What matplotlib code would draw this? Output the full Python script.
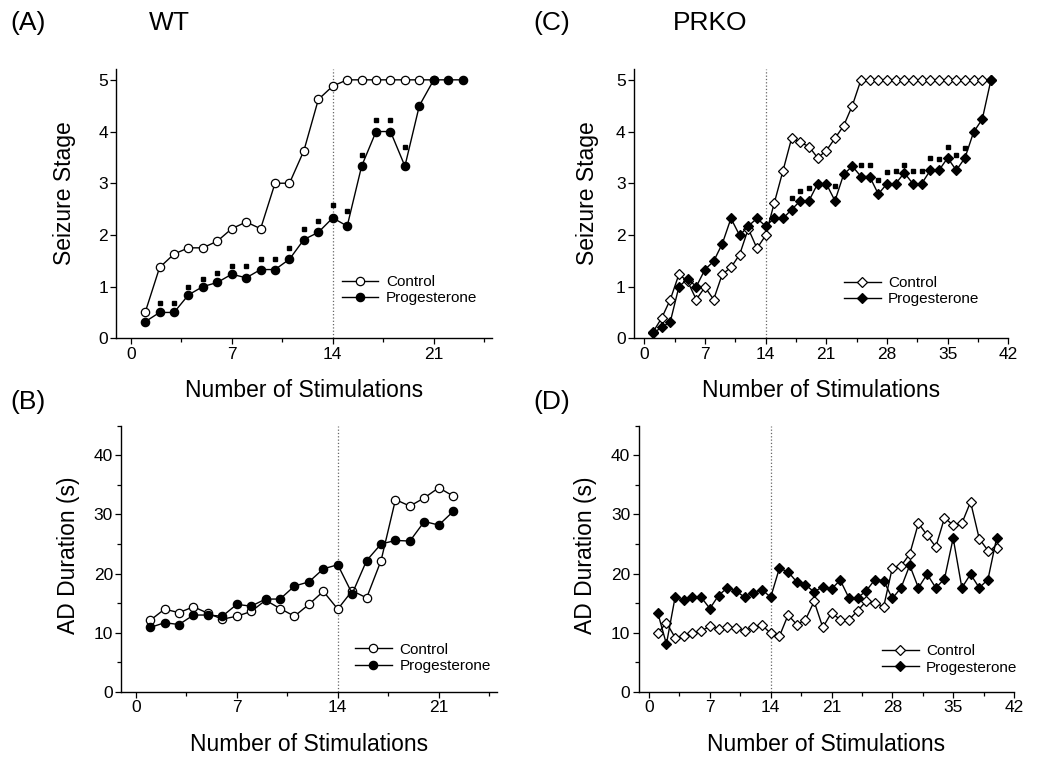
import numpy as np
import matplotlib
matplotlib.use("Agg")
import matplotlib.pyplot as plt
from matplotlib.ticker import MultipleLocator

plt.rcParams["font.family"] = ["Liberation Sans", "DejaVu Sans"]

# ---------------------------------
# Data
# ---------------------------------
# (A) WT seizure stage
wt_ctrl_stage = [0.5, 1.37, 1.63, 1.75, 1.75, 1.88, 2.12, 2.25, 2.12, 3.0, 3.0,
                 3.63, 4.62, 4.88, 5.0, 5.0, 5.0, 5.0, 5.0, 5.0, 5.0]
wt_prog_stage = [0.32, 0.5, 0.5, 0.84, 1.0, 1.08, 1.24, 1.17, 1.33, 1.33, 1.53,
                 1.91, 2.05, 2.33, 2.17, 3.33, 4.0, 4.0, 3.33, 4.5, 5.0, 5.0, 5.0]
wt_sig_x = [2, 3, 4, 5, 6, 7, 8, 9, 10, 11, 12, 13, 14, 15, 16, 17, 18, 19]
wt_sig_y = [0.68, 0.68, 0.99, 1.15, 1.26, 1.40, 1.39, 1.53, 1.53, 1.74,
            2.11, 2.27, 2.58, 2.46, 3.54, 4.22, 4.22, 3.71]

# (B) WT AD duration
wt_ctrl_ad = [12.1, 14.0, 13.4, 14.4, 13.3, 12.3, 12.8, 13.6, 15.5, 14.1, 12.8,
              14.8, 17.0, 14.0, 17.1, 15.9, 22.2, 32.5, 31.4, 32.8, 34.5, 33.1]
wt_prog_ad = [10.9, 11.7, 11.4, 13.0, 13.0, 12.8, 14.8, 14.5, 15.7, 15.7, 17.9,
              18.6, 20.8, 21.5, 16.6, 22.2, 25.0, 25.6, 25.5, 28.8, 28.2, 30.5]

# (C) PRKO seizure stage
ko_ctrl_stage = [0.12, 0.39, 0.75, 1.24, 1.1, 0.75, 0.99, 0.75, 1.24, 1.37,
                 1.62, 2.12, 1.74, 1.99, 2.62, 3.24, 3.87, 3.79, 3.71, 3.49,
                 3.63, 3.87, 4.11, 4.5] + [5.0] * 16
ko_prog_stage = [0.1, 0.21, 0.32, 1.0, 1.15, 1.0, 1.33, 1.49, 1.83, 2.32,
                 1.99, 2.17, 2.32, 2.17, 2.32, 2.32, 2.49, 2.66, 2.66, 2.99,
                 2.99, 2.66, 3.17, 3.33, 3.13, 3.13, 2.79, 2.99, 2.99, 3.2,
                 2.99, 2.99, 3.25, 3.25, 3.49, 3.25, 3.49, 3.99, 4.24, 5.0]
ko_sig_x = [17, 18, 19, 22, 25, 26, 27, 28, 29, 30, 31, 32, 33, 34, 35, 36, 37]
ko_sig_y = [2.71, 2.85, 2.9, 2.94, 3.36, 3.35, 3.07, 3.22, 3.24, 3.36,
            3.23, 3.23, 3.49, 3.46, 3.7, 3.54, 3.69]

# (D) PRKO AD duration
ko_ctrl_ad = [9.9, 11.7, 9.2, 9.5, 9.9, 10.3, 11.1, 10.7, 11.0, 10.8,
              10.3, 11.0, 11.3, 9.9, 9.4, 13.0, 11.4, 12.2, 15.3, 10.9,
              13.4, 12.2, 12.2, 13.7, 15.4, 15.1, 14.4, 21.0, 21.3, 23.3,
              28.5, 26.5, 24.5, 29.4, 28.2, 28.5, 32.1, 25.9, 23.9, 24.4]
ko_prog_ad = [13.4, 8.1, 16.0, 15.5, 16.0, 16.0, 14.1, 16.3, 17.6, 17.1,
              16.0, 16.8, 17.3, 16.0, 20.9, 20.3, 18.6, 18.1, 16.9, 17.8,
              17.4, 18.9, 15.9, 15.9, 17.1, 19.0, 18.8, 15.8, 17.6, 21.4,
              17.6, 19.9, 17.6, 19.1, 26.0, 17.6, 19.9, 17.6, 19.0, 26.0]

fig = plt.figure(figsize=(10.5, 7.67), dpi=100)


def px_ax(left, right, top, bottom):
    W, H = 1050, 767
    return fig.add_axes([left / W, 1 - bottom / H, (right - left) / W, (bottom - top) / H])


def style(ax, xmax, ymax, ystep, yminor):
    ax.set_xlim(-1.2 if xmax > 30 else -1, xmax)
    ax.set_ylim(0, ymax)
    for s in ["top", "right"]:
        ax.spines[s].set_visible(False)
    for s in ["left", "bottom"]:
        ax.spines[s].set_linewidth(1.0)
    ax.xaxis.set_major_locator(MultipleLocator(7))
    ax.xaxis.set_minor_locator(MultipleLocator(3.5))
    ax.yaxis.set_major_locator(MultipleLocator(ystep))
    if yminor:
        ax.yaxis.set_minor_locator(MultipleLocator(yminor))
    ax.tick_params(which="major", direction="out", length=4, width=0.9,
                   labelsize=12.5, pad=2)
    ax.tick_params(which="minor", direction="out", length=3, width=0.9)
    ax.axvline(14, color="#666666", ls=":", lw=0.9, zorder=0)


def series(ax, y, marker, filled, label, ms):
    x = np.arange(1, len(y) + 1)
    ax.plot(x, y, color="black", lw=1.0, marker=marker, ms=ms,
            mfc="black" if filled else "white", mec="black", mew=0.9,
            label=label, zorder=3 if filled else 2)


def legend(ax, x, y):
    ax.legend(loc="upper left", bbox_to_anchor=(x, y), frameon=False,
              fontsize=11, handlelength=2.4, handletextpad=0.5,
              labelspacing=0.15, borderpad=0, borderaxespad=0)


# (A)
axA = px_ax(116.3, 491.5, 69.5, 338.3)
style(axA, 25, 5.2, 1, None)
series(axA, wt_ctrl_stage, "o", False, "Control", 6)
series(axA, wt_prog_stage, "o", True, "Progesterone", 6)
axA.plot(wt_sig_x, wt_sig_y, ls="none", marker="s", ms=2.2, color="black")
axA.set_xticks([0, 7, 14, 21])
axA.set_ylabel("Seizure Stage", fontsize=16.5)
axA.set_xlabel("Number of Stimulations", fontsize=16.5)
axA.yaxis.set_label_coords(-0.137, 0.54)
axA.xaxis.set_label_coords(0.5, -0.196)
legend(axA, 0.601, 0.236)

# (B)
axB = px_ax(121.3, 496.5, 425.6, 692)
style(axB, 25, 45, 10, 5)
series(axB, wt_ctrl_ad, "o", False, "Control", 6)
series(axB, wt_prog_ad, "o", True, "Progesterone", 6)
axB.set_xticks([0, 7, 14, 21])
axB.set_ylabel("AD Duration (s)", fontsize=16.5)
axB.set_xlabel("Number of Stimulations", fontsize=16.5)
axB.yaxis.set_label_coords(-0.142, 0.514)
axB.xaxis.set_label_coords(0.5, -0.198)
legend(axB, 0.623, 0.185)

# (C)
axC = px_ax(633.9, 1008.3, 69.5, 338.3)
style(axC, 42, 5.2, 1, None)
series(axC, ko_ctrl_stage, "D", False, "Control", 5.2)
series(axC, ko_prog_stage, "D", True, "Progesterone", 5.2)
axC.plot(ko_sig_x, ko_sig_y, ls="none", marker="s", ms=2.2, color="black")
axC.set_ylabel("Seizure Stage", fontsize=16.5)
axC.set_xlabel("Number of Stimulations", fontsize=16.5)
axC.yaxis.set_label_coords(-0.125, 0.54)
axC.xaxis.set_label_coords(0.5, -0.196)
legend(axC, 0.561, 0.231)

# (D)
axD = px_ax(638.6, 1014.0, 425.6, 692)
style(axD, 42, 45, 10, 5)
series(axD, ko_ctrl_ad, "D", False, "Control", 5.2)
series(axD, ko_prog_ad, "D", True, "Progesterone", 5.2)
axD.set_ylabel("AD Duration (s)", fontsize=16.5)
axD.set_xlabel("Number of Stimulations", fontsize=16.5)
axD.yaxis.set_label_coords(-0.142, 0.514)
axD.xaxis.set_label_coords(0.5, -0.198)
legend(axD, 0.648, 0.179)

for ax in [axA, axB, axC, axD]:
    ax.xaxis.label.set_va("center")
    ax.yaxis.label.set_va("center")

# panel labels
for txt, x, y in [("(A)", 28.5, 23.3), ("WT", 169, 23.3), ("(B)", 28.5, 401.7),
                  ("(C)", 551.5, 23.3), ("PRKO", 710, 23.3), ("(D)", 551.5, 401.7)]:
    fig.text(x / 1050, 1 - y / 767, txt, fontsize=19, ha="center", va="center")

fig.savefig("out.png", dpi=100)
